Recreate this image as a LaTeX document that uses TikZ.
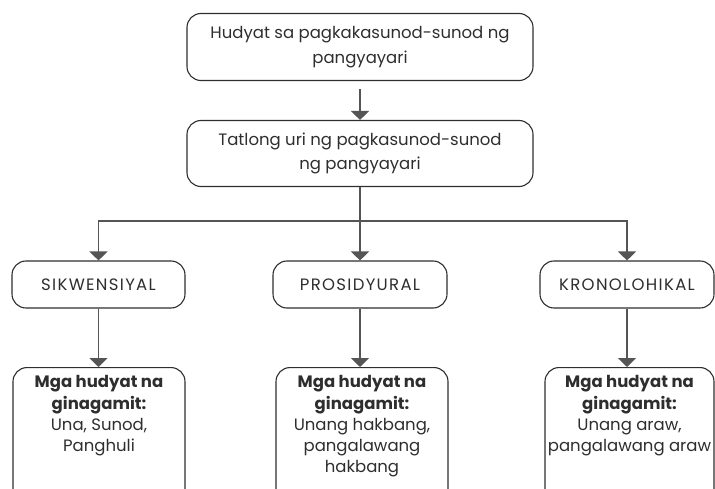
\documentclass[tikz,border=0pt]{standalone}
\usepackage{fontspec}
\setmainfont{Poppins}
\newfontfamily\capsfont[LetterSpace=8]{Poppins}
\usetikzlibrary{arrows.meta}
\definecolor{txt}{HTML}{2E2E2E}
\definecolor{ln}{HTML}{555555}
\tikzset{
  box/.style={draw=txt, line width=1.1pt, rounded corners=14pt, text=txt, align=center, inner sep=0pt, font=\fontsize{16.5}{24.5}\selectfont},
  capbox/.style={box, minimum width=174pt, minimum height=47pt, font=\capsfont\fontsize{16.5}{24.5}\selectfont},
  lowtext/.style={anchor=north, font=\fontsize{16.5}{21.3}\selectfont},
  arr/.style={draw=ln, line width=1.8pt, -{Triangle[width=18pt,length=9pt]}},
}
\begin{document}
\begin{tikzpicture}[x=1pt,y=-1pt]
\useasboundingbox (0,0) rectangle (715,489);
\clip (0,0) rectangle (715,489);
\node[box, minimum width=346pt, minimum height=67pt] (top) at (360,47) {Hudyat sa pagkakasunod-sunod ng\\pangyayari};
\node[box, minimum width=346pt, minimum height=66pt] (mid) at (360,153.5) {Tatlong uri ng pagkasunod-sunod\\ng pangyayari};
\node[capbox, minimum width=173pt] (sik) at (98.5,284.5) {SIKWENSIYAL};
\node[capbox] (pro) at (360,284.5) {PROSIDYURAL};
\node[capbox] (kro) at (627,284.5) {KRONOLOHIKAL};
\node[box, lowtext] (sikb) at (99,367) {\parbox[t][150pt][t]{172pt}{\centering\vspace{8pt}\textbf{Mga hudyat na}\\\textbf{ginagamit:}\\Una, Sunod,\\Panghuli}};
\node[box, lowtext] (prob) at (362,367) {\parbox[t][150pt][t]{172pt}{\centering\vspace{8pt}\textbf{Mga hudyat na}\\\textbf{ginagamit:}\\Unang hakbang,\\pangalawang\\hakbang}};
\node[box, lowtext] (krob) at (629.5,367) {\parbox[t][150pt][t]{169pt}{\centering\vspace{8pt}\textbf{Mga hudyat na}\\\textbf{ginagamit:}\\Unang araw,\\pangalawang araw}};
\coordinate (j) at (360,221);
\draw[arr, shorten <=8pt] (top.south) -- (mid.north);
\draw[draw=ln, line width=1.8pt] (mid.south) -- (j);
\draw[arr] (j) -| (sik.north);
\draw[arr] (j) -| (kro.north);
\draw[arr] (j) -- (pro.north);
\draw[arr] (sik.south) -- (sik.south |- sikb.north);
\draw[arr] (pro.south) -- (pro.south |- prob.north);
\draw[arr] (kro.south) -- (kro.south |- krob.north);
\end{tikzpicture}
\end{document}
